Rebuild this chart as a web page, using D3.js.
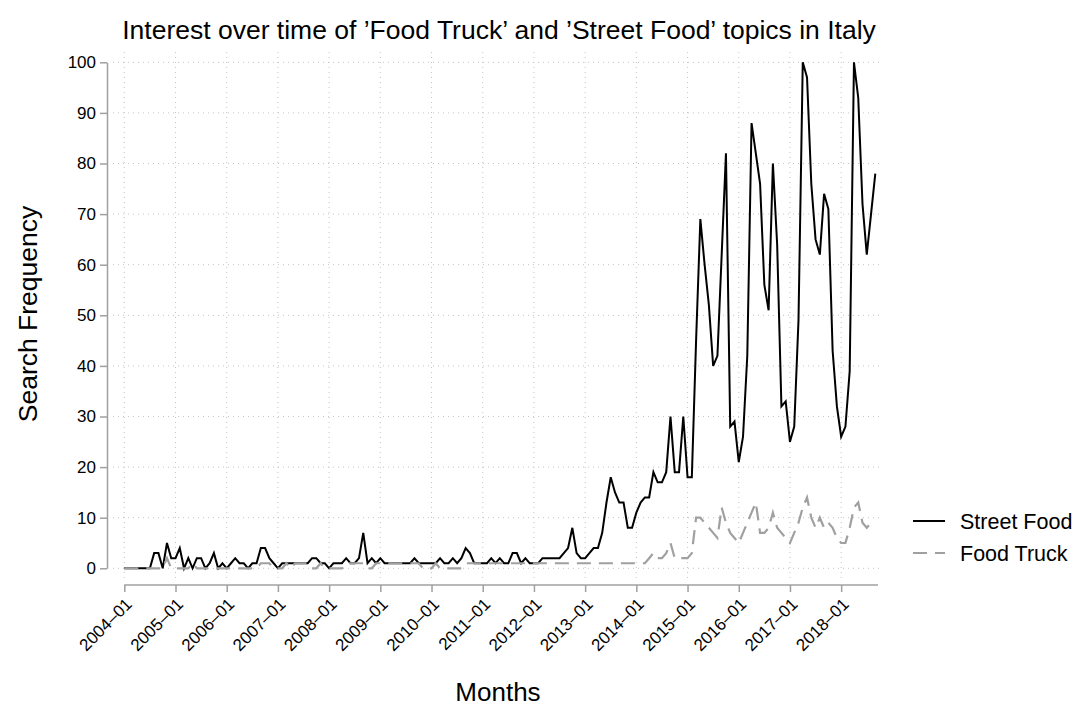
<html lang="en">
    <head>
        <meta charset="utf-8">
        <title>Food Truck vs Street Food</title>
        <style>
			body {
				margin: 0;
				background-color: white;
			}
			text {
				font-family: "Liberation Sans", Arial, Helvetica, sans-serif;
				fill: black;
			}
			.axis path,
			.axis line {
				fill: none;
				stroke: #a0a0a0;
				stroke-width: 1.5;
			}
			.axis text {
				font-size: 17px;
			}
			.grid line {
				stroke: #c4c4c4;
				stroke-width: 1;
				stroke-dasharray: 1,4;
			}
        </style>
    </head>

    <body>
    </body>

    <script type="text/javascript" src="https://cdnjs.cloudflare.com/ajax/libs/d3/7.8.5/d3.min.js"></script>

    <script type="text/javascript">
		// data: monthly, 2004-01 .. 2018-09
		var startMonth = new Date(2004, 0, 1);
		var endMonth = new Date(2018, 9, 1);   // exclusive

		var streetFood = [
			0,0,0,0,0,0,0,3,3,0,5,2,            // 2004
			2,4,0,2,0,2,2,0,1,3,0,1,            // 2005
			0,1,2,1,1,0,1,1,4,4,2,1,            // 2006
			0,1,1,1,1,1,1,1,2,2,1,1,            // 2007
			0,1,1,1,2,1,1,2,7,1,2,1,            // 2008
			2,1,1,1,1,1,1,1,2,1,1,1,            // 2009
			1,1,2,1,1,2,1,2,4,3,1,1,            // 2010
			1,1,2,1,2,1,1,3,3,1,2,1,            // 2011
			1,1,2,2,2,2,2,3,4,8,3,2,            // 2012
			2,3,4,4,7,13,18,15,13,13,8,8,       // 2013
			11,13,14,14,19,17,17,19,30,19,19,30,// 2014
			18,18,45,69,60,52,40,42,62,82,28,29,// 2015
			21,26,42,88,82,76,56,51,80,64,32,33,// 2016
			25,28,49,100,97,76,65,62,74,71,43,32,// 2017
			26,28,39,100,93,72,62,70,78         // 2018
		];

		var foodTruck = [
			0,0,0,0,0,0,0,0,0,0,2,0,            // 2004
			0,0,0,0,1,0,0,0,0,0,0,0,            // 2005
			0,0,0,0,0,0,0,0,1,1,1,0,            // 2006
			0,0,1,0,1,1,1,1,0,0,1,0,            // 2007
			0,0,0,0,1,1,1,1,1,0,0,1,            // 2008
			1,1,1,1,1,1,1,1,1,1,0,0,            // 2009
			0,1,0,0,0,0,0,0,1,1,1,1,            // 2010
			1,1,1,1,1,1,1,1,1,1,1,1,            // 2011
			1,1,1,1,1,1,1,1,1,1,1,1,            // 2012
			1,1,1,1,1,1,1,1,1,1,1,1,            // 2013
			1,1,1,2,3,2,2,3,5,2,2,2,            // 2014
			2,3,10,10,9,8,7,6,12,9,7,6,         // 2015
			5,7,9,11,13,7,7,8,11,8,7,6,         // 2016
			5,7,9,12,14,10,8,10,8,9,8,6,        // 2017
			5,5,8,12,13,9,8,9,9                 // 2018
		];

		var yTicks = [0,10,20,30,40,50,60,70,80,90,100];
		var xTickLabels = ["2004-01","2005-01","2006-01","2007-01","2008-01","2009-01","2010-01",
			"2011-01","2012-01","2013-01","2014-01","2015-01","2016-01","2017-01","2018-01"];

		var seriesNames = ["Street Food", "Food Truck"];
		var seriesColors = ["#000000", "#a0a0a0"];

		var fullWidth = 1079;
		var fullHeight = 709;

		var fmt = d3.timeFormat("%Y-%m");
		var months = d3.timeMonth.range(startMonth, endMonth).map(fmt);

		var svg = d3.select("body")
			.append("svg")
			.attr("width", fullWidth)
			.attr("height", fullHeight);

		var xScale = d3.scalePoint()
			.domain(months)
			.range([124.3, 875.3]);
		var yScale = d3.scaleLinear()
			.domain([0, 100])
			.range([568.3, 62.3]);

		// grid
		var grid = svg.append("g").attr("class", "grid");
		grid.selectAll(".hg")
			.data(yTicks).enter()
			.append("line")
			.attr("x1", 113).attr("x2", 881)
			.attr("y1", function(d) { return yScale(d); })
			.attr("y2", function(d) { return yScale(d); });
		grid.selectAll(".vg")
			.data(xTickLabels).enter()
			.append("line")
			.attr("x1", function(d) { return xScale(d); })
			.attr("x2", function(d) { return xScale(d); })
			.attr("y1", 52).attr("y2", 581);

		// axes
		var yAxis = d3.axisLeft(yScale)
			.tickValues(yTicks)
			.tickSize(7)
			.tickSizeOuter(0)
			.tickPadding(4);
		svg.append("g")
			.attr("class", "axis y-axis")
			.attr("transform", "translate(107,0)")
			.call(yAxis);

		var xAxis = d3.axisBottom(xScale)
			.tickValues(xTickLabels)
			.tickSize(7)
			.tickSizeOuter(0)
			.tickFormat(function(d) { return d.replace("-", "\u2013"); });
		var gx = svg.append("g")
			.attr("class", "axis x-axis")
			.attr("transform", "translate(0,585)")
			.call(xAxis);
		gx.select(".domain").remove();
		gx.append("line")
			.attr("x1", 124.3).attr("x2", 878)
			.attr("y1", 0).attr("y2", 0);
		gx.selectAll("text")
			.attr("x", 0).attr("y", 0).attr("dy", "0.35em")
			.attr("text-anchor", "end")
			.attr("transform", "translate(4,16) rotate(-45)");

		// lines
		var line = d3.line()
			.x(function(d, i) { return xScale(months[i]); })
			.y(function(d) { return yScale(d); });

		svg.append("path")
			.datum(streetFood)
			.attr("fill", "none")
			.attr("stroke", seriesColors[0])
			.attr("stroke-width", 2)
			.attr("d", line);

		svg.append("path")
			.datum(foodTruck)
			.attr("fill", "none")
			.attr("stroke", seriesColors[1])
			.attr("stroke-width", 2.2)
			.attr("stroke-dasharray", "14,8")
			.attr("d", line);

		// titles
		svg.append("text")
			.attr("x", 499).attr("y", 39)
			.attr("text-anchor", "middle")
			.style("font-size", "26.5px")
			.text("Interest over time of \u2019Food Truck\u2019 and \u2019Street Food\u2019 topics in Italy");

		svg.append("text")
			.attr("transform", "translate(37,314) rotate(-90)")
			.attr("text-anchor", "middle")
			.style("font-size", "26.5px")
			.text("Search Frequency");

		svg.append("text")
			.attr("x", 498).attr("y", 701)
			.attr("text-anchor", "middle")
			.style("font-size", "26px")
			.text("Months");

		// legend
		var legend = svg.append("g")
			.selectAll("g")
			.data(seriesNames).enter()
			.append("g")
			.attr("transform", function(d, i) { return "translate(913," + (521 + i * 32) + ")"; });
		legend.append("line")
			.attr("x1", 0).attr("x2", 32)
			.attr("y1", 0).attr("y2", 0)
			.attr("stroke", function(d, i) { return seriesColors[i]; })
			.attr("stroke-width", 2)
			.attr("stroke-dasharray", function(d, i) { return i == 1 ? "14,8" : null; });
		legend.append("text")
			.attr("x", 47).attr("y", 0)
			.attr("dy", "0.35em")
			.style("font-size", "21.5px")
			.text(function(d) { return d; });
    </script>
</html>
